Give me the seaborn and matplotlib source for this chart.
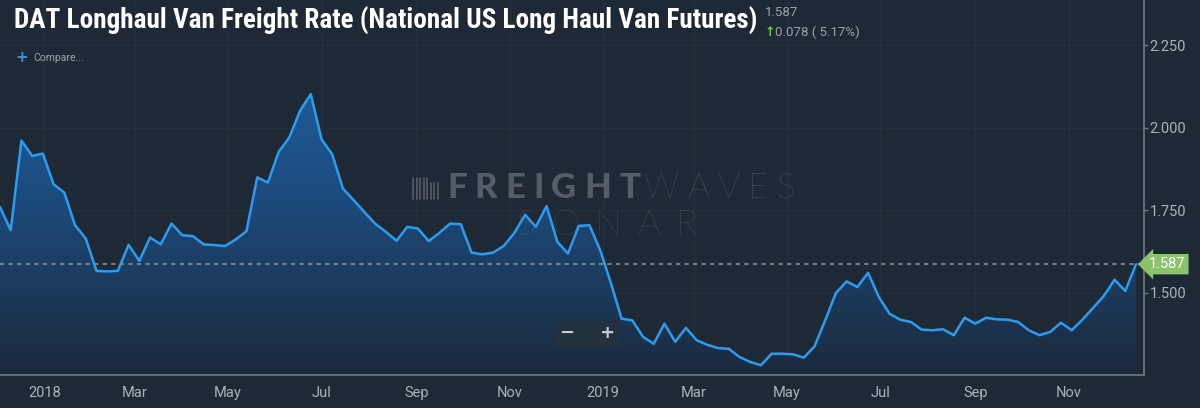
import numpy as np
import pandas as pd
import matplotlib
matplotlib.use("Agg")
import matplotlib.pyplot as plt
import matplotlib.dates as mdates
import seaborn as sns
from matplotlib import font_manager
from matplotlib.colors import LinearSegmentedColormap
from matplotlib.lines import Line2D


# weekly DAT long haul van rate
rates = [
    1.760,
    1.690, 1.961, 1.915, 1.922, 1.829, 1.804, 1.705, 1.665, 1.567, 1.565,
    1.567, 1.646, 1.597, 1.668, 1.647, 1.710, 1.675, 1.672, 1.647, 1.645,
    1.642, 1.662, 1.687, 1.850, 1.834, 1.927, 1.971, 2.052, 2.102,
    1.965, 1.920, 1.816, 1.781, 1.745, 1.710, 1.685, 1.658, 1.700, 1.695,
    1.657, 1.682, 1.710, 1.708, 1.622, 1.617, 1.622, 1.642, 1.682, 1.737,
    1.700, 1.763, 1.655, 1.619, 1.703, 1.705,
    1.630, 1.530,
    1.422, 1.417, 1.367, 1.346, 1.407, 1.352, 1.394, 1.357, 1.343, 1.333,
    1.331, 1.306, 1.291, 1.281, 1.316, 1.316, 1.314, 1.304, 1.338, 1.417,
    1.500, 1.535, 1.518, 1.561, 1.488, 1.437, 1.419, 1.412,
    1.389, 1.387, 1.390, 1.372, 1.425, 1.407, 1.425, 1.420, 1.419, 1.412,
    1.387, 1.372, 1.382, 1.410, 1.387, 1.419, 1.455, 1.491, 1.540, 1.506,
    1.587,
]
last_date = "2019-12-15"

tick_dates = ["2018-01-01", "2018-03-01", "2018-05-01", "2018-07-01", "2018-09-01", "2018-11-01",
              "2019-01-01", "2019-03-01", "2019-05-01", "2019-07-01", "2019-09-01", "2019-11-01"]
tick_labels = ["2018", "Mar", "May", "Jul", "Sep", "Nov", "2019", "Mar", "May", "Jul", "Sep", "Nov"]
y_ticks = [1.5, 1.75, 2.0, 2.25]

title = "DAT Longhaul Van Freight Rate (National US Long Haul Van Futures)"
last_price = "1.587"
change_text = "0.078 ( 5.17%)"

W, H = 1200, 408
bg = "#1e2935"
line_c = "#2b9cf0"
grid_c = "#253039"
axis_c = "#6f7a85"
label_c = "#aab3bb"

sns.set_style("dark")
plt.rcParams["font.family"] = ["Roboto", "DejaVu Sans"]

installed = {f.name for f in font_manager.fontManager.ttflist}
title_font = next((n for n in ["Roboto Condensed", "Liberation Sans Narrow", "DejaVu Sans Condensed", "Roboto"]
                   if n in installed), "DejaVu Sans")

df = pd.DataFrame({"date": pd.date_range(end=last_date, periods=len(rates), freq="7D"), "rate": rates})

fig = plt.figure(figsize=(W / 100, H / 100), dpi=100, facecolor=bg)
ax = fig.add_axes([0, (H - 375) / H, 1144 / W, 375 / H])
ax.set_facecolor(bg)

sns.lineplot(data=df, x="date", y="rate", ax=ax, color=line_c, linewidth=1.8, zorder=5)

span = (df["date"].iloc[-1] - df["date"].iloc[0]).days
x0 = df["date"].iloc[0]
x1 = x0 + pd.Timedelta(days=span * 1144 / 1136)
y0, y1 = 1.2515, 2.387

# vertical gradient under the line
cmap = LinearSegmentedColormap.from_list("fill", ["#1b2a3c", "#1d4c80", "#2166aa"])
im = ax.imshow(np.linspace(0, 1, 256).reshape(-1, 1), cmap=cmap, origin="lower", aspect="auto",
               extent=[mdates.date2num(x0), mdates.date2num(x1), y0, y1], zorder=2)
poly = ax.fill_between(df["date"], df["rate"], y0, facecolor="none", edgecolor="none")
im.set_clip_path(poly.get_paths()[0], transform=ax.transData)

ax.set_xlim(x0, x1)
ax.set_ylim(y0, y1)

ax.grid(True, color=grid_c, linewidth=0.8)
ax.set_axisbelow(True)
for s in ["top", "left"]:
    ax.spines[s].set_visible(False)
for s in ["right", "bottom"]:
    ax.spines[s].set_color(axis_c)
    ax.spines[s].set_linewidth(1.2)

ax.yaxis.tick_right()
ax.set_yticks(y_ticks)
ax.set_yticklabels([f"{v:.3f}" for v in y_ticks])
ax.set_xticks(pd.to_datetime(tick_dates))
ax.set_xticklabels(tick_labels)
ax.tick_params(axis="x", colors=axis_c, labelcolor=label_c, labelsize=10.5, length=3, width=1, pad=5)
ax.tick_params(axis="y", colors=axis_c, labelcolor=label_c, labelsize=10.5, length=3, width=1, pad=1)
ax.set_xlabel("")
ax.set_ylabel("")

# last value marker
ax.axhline(rates[-1], color="#8e989f", linewidth=1.1, linestyle=(0, (2.8, 2.8)), zorder=3)
ax.text(1 + 5 / 1144, rates[-1], last_price, transform=ax.get_yaxis_transform(), ha="left", va="center",
        color="white", fontsize=10.5, zorder=6, clip_on=False,
        bbox=dict(boxstyle="larrow,pad=0.22", fc="#8cc26c", ec="none"))

# watermark
wm_c = "#5e6770"
renderer = fig.canvas.get_renderer()


def spread_word(word, xa, xb, yc, **kw):
    parts = [fig.text(0, 0, ch, **kw) for ch in word]
    widths = [p.get_window_extent(renderer).width for p in parts]
    gap = (xb - xa - sum(widths)) / max(len(word) - 1, 1)
    x = xa
    for p, w in zip(parts, widths):
        p.set_position((x / W, 1 - yc / H))
        p.set_ha("left")
        p.set_va("center")
        x += w + gap


spread_word("FREIGHT", 447, 640, 188, color=wm_c, fontsize=25, fontweight="black",
            family=["Lato", "DejaVu Sans"], alpha=0.85, zorder=1)
spread_word("WAVES", 644, 795, 188, color=wm_c, fontsize=25, fontweight="light",
            family=["Lato", "DejaVu Sans"], alpha=0.85, zorder=1)
spread_word("SONAR", 517, 697, 225, color=wm_c, fontsize=26, fontweight="light",
            family=["Lato", "DejaVu Sans"], alpha=0.7, zorder=1)
for i, bx in enumerate(np.arange(413, 441, 3.5)):
    top = 178 if i < 5 else 183
    fig.add_artist(Line2D([bx / W, bx / W], [1 - top / H, 1 - 199 / H], color=wm_c, lw=1.2, alpha=0.85))

# zoom buttons
fig.text(588 / W, 1 - 333 / H, "\u2212    +", ha="center", va="center", color="#c3cad1", fontsize=13,
         fontweight="bold", family=["DejaVu Sans"],
         bbox=dict(boxstyle="square,pad=0.25", fc="#223040", ec="none"))

# header texts
t = fig.text(14 / W, 1 - 21 / H, title, ha="left", va="center", color="white", fontsize=20,
             fontweight="bold", family=[title_font, "DejaVu Sans"])
fig.canvas.draw()
tw = t.get_window_extent(renderer).width
t.set_fontsize(20 * 743 / tw)

fig.text(765 / W, 1 - 13 / H, last_price, ha="left", va="center", color="#98a2ab", fontsize=9.5)
fig.text(765 / W, 1 - 32 / H, "\u2191", ha="left", va="center", color="#7cc242", fontsize=9,
         fontweight="bold", family=["DejaVu Sans"])
fig.text(775 / W, 1 - 32 / H, change_text, ha="left", va="center", color="#98a2ab", fontsize=9.5)

fig.text(15 / W, 1 - 58 / H, "+", ha="left", va="center", color="#3d8fe0", fontsize=11, fontweight="bold",
         family=["DejaVu Sans"])
fig.text(33 / W, 1 - 58 / H, "Compare...", ha="left", va="center", color="#9aa3ab", fontsize=7.5)

fig.savefig("out.png", dpi=100, facecolor=bg)
